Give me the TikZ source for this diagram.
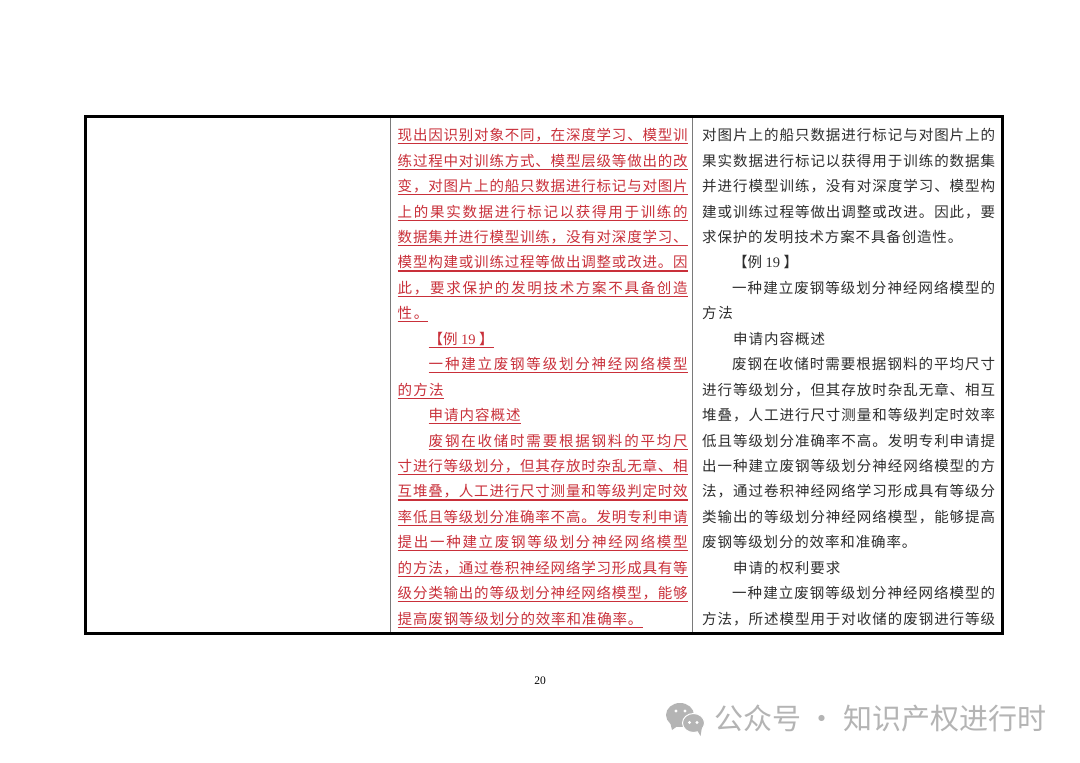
\documentclass[tikz,border=0pt]{standalone}
\usepackage{fontspec}
\setmainfont{Noto Sans CJK SC}
\newfontfamily\latinFont{Liberation Serif}
\definecolor{markRed}{HTML}{C9303A}
\definecolor{bodyInk}{HTML}{2E2E2E}
\definecolor{ruleGray}{HTML}{7A7A7A}
\definecolor{markGray}{HTML}{B4B4B4}
\begin{document}
\begin{tikzpicture}[x=1pt,y=-1pt,
  textcol/.style={matrix of nodes,inner sep=0pt,anchor=north west,row sep=0pt,
    nodes={anchor=base west,inner sep=0pt,text height=18.45pt,text depth=7pt,
      font=\fontsize{14.5pt}{14.5pt}\selectfont}},
  iconbubble/.style={fill=markGray,draw=white,line width=1pt},
  iconeye/.style={fill=white,circle,inner sep=0pt,minimum size=3.2pt}]
\usetikzlibrary {matrix}
    \def\spreadStep#1{\ifx#1\relax\else\hskip 0pt plus 1fil #1\expandafter\spreadStep\fi}
    \def\spreadOut#1#2\relax{#1\spreadStep#2\relax}
    \newcommand{\redLine}[1]{%
        \setbox0=\hbox{#1}\rlap{\rule[-3.6pt]{\wd0}{1.1pt}}\box0%
    }
    \newcommand{\redFull}[1]{\redLine{\hbox to 290pt{\spreadOut#1\relax}}}
    \newcommand{\redInd}[1]{\hspace*{31pt}\redLine{\hbox to 259pt{\spreadOut#1\relax}}}
    \newcommand{\inkFull}[1]{\hbox to 293pt{\spreadOut#1\relax}}
    \newcommand{\inkInd}[1]{\hspace*{30pt}\hbox to 263pt{\spreadOut#1\relax}}
    \newcommand{\partLine}[2]{\hbox to \dimexpr 15.3pt*#1\relax{\spreadOut#2\relax}}
    \newcommand{\ind}{\hspace*{31pt}}
    \newcommand{\exampleMark}{\hbox to 65pt{【例\hfil{\latinFont 19}\hfil】}}
  \useasboundingbox (0,0) rectangle (1080,763);
  \fill[white] (0,0) rectangle (1080,763);

  % table rules
  \draw[ruleGray,line width=1.4pt] (390.5,116) -- (390.5,633);
  \draw[ruleGray,line width=1.4pt] (692.5,116) -- (692.5,633);
  \draw[black,line width=3pt] (85,116) rectangle (1002,633);

  \matrix (redcol) [textcol,text=markRed,at={(397.5,122)}]
  {
    \redFull{现出因识别对象不同，在深度学习、模型训} \\
    \redFull{练过程中对训练方式、模型层级等做出的改} \\
    \redFull{变，对图片上的船只数据进行标记与对图片} \\
    \redFull{上的果实数据进行标记以获得用于训练的} \\
    \redFull{数据集并进行模型训练，没有对深度学习、} \\
    \redFull{模型构建或训练过程等做出调整或改进。因} \\
    \redFull{此，要求保护的发明技术方案不具备创造} \\
    \redLine{\partLine{2}{性。}} \\
    \ind\redLine{\exampleMark} \\
    \redInd{一种建立废钢等级划分神经网络模型} \\
    \redLine{\partLine{3}{的方法}} \\
    \ind\redLine{\partLine{6}{申请内容概述}} \\
    \redInd{废钢在收储时需要根据钢料的平均尺} \\
    \redFull{寸进行等级划分，但其存放时杂乱无章、相} \\
    \redFull{互堆叠，人工进行尺寸测量和等级判定时效} \\
    \redFull{率低且等级划分准确率不高。发明专利申请} \\
    \redFull{提出一种建立废钢等级划分神经网络模型} \\
    \redFull{的方法，通过卷积神经网络学习形成具有等} \\
    \redFull{级分类输出的等级划分神经网络模型，能够} \\
    \redLine{\partLine{16}{提高废钢等级划分的效率和准确率。}} \\
  };

  \matrix (inkcol) [textcol,text=bodyInk,at={(702,122)}]
  {
    \inkFull{对图片上的船只数据进行标记与对图片上的} \\
    \inkFull{果实数据进行标记以获得用于训练的数据集} \\
    \inkFull{并进行模型训练，没有对深度学习、模型构} \\
    \inkFull{建或训练过程等做出调整或改进。因此，要} \\
    \partLine{17}{求保护的发明技术方案不具备创造性。} \\
    \ind\exampleMark \\
    \inkInd{一种建立废钢等级划分神经网络模型的} \\
    \partLine{2}{方法} \\
    \ind\partLine{6}{申请内容概述} \\
    \inkInd{废钢在收储时需要根据钢料的平均尺寸} \\
    \inkFull{进行等级划分，但其存放时杂乱无章、相互} \\
    \inkFull{堆叠，人工进行尺寸测量和等级判定时效率} \\
    \inkFull{低且等级划分准确率不高。发明专利申请提} \\
    \inkFull{出一种建立废钢等级划分神经网络模型的方} \\
    \inkFull{法，通过卷积神经网络学习形成具有等级分} \\
    \inkFull{类输出的等级划分神经网络模型，能够提高} \\
    \partLine{14}{废钢等级划分的效率和准确率。} \\
    \ind\partLine{7}{申请的权利要求} \\
    \inkInd{一种建立废钢等级划分神经网络模型的} \\
    \inkFull{方法，所述模型用于对收储的废钢进行等级} \\
  };

  \node (pagenum) at (540,680.5) [font=\latinFont\fontsize{11.5pt}{12pt}\selectfont,text=black] {20};

  % watermark
  \fill[markGray] (670,722) -- (672,730) -- (679,725) -- cycle;
  \fill[iconbubble,draw=none] (680,715) ellipse (14pt and 12pt);
  \filldraw[iconbubble] (693.5,723) ellipse (11pt and 9.5pt);
  \fill[markGray] (697,730) -- (700.5,736) -- (702,727) -- cycle;
  \node (eyeA) at (676,711) [iconeye] {};
  \node (eyeB) at (685,711) [iconeye] {};
  \node (eyeC) at (689.5,722.5) [iconeye] {};
  \node (eyeD) at (697,722.5) [iconeye] {};
  \node (markname) at (880,718.5) [text=markGray,inner sep=0pt,
    font=\fontsize{29pt}{30pt}\selectfont] {公众号 · 知识产权进行时};
\end{tikzpicture}
\end{document}
